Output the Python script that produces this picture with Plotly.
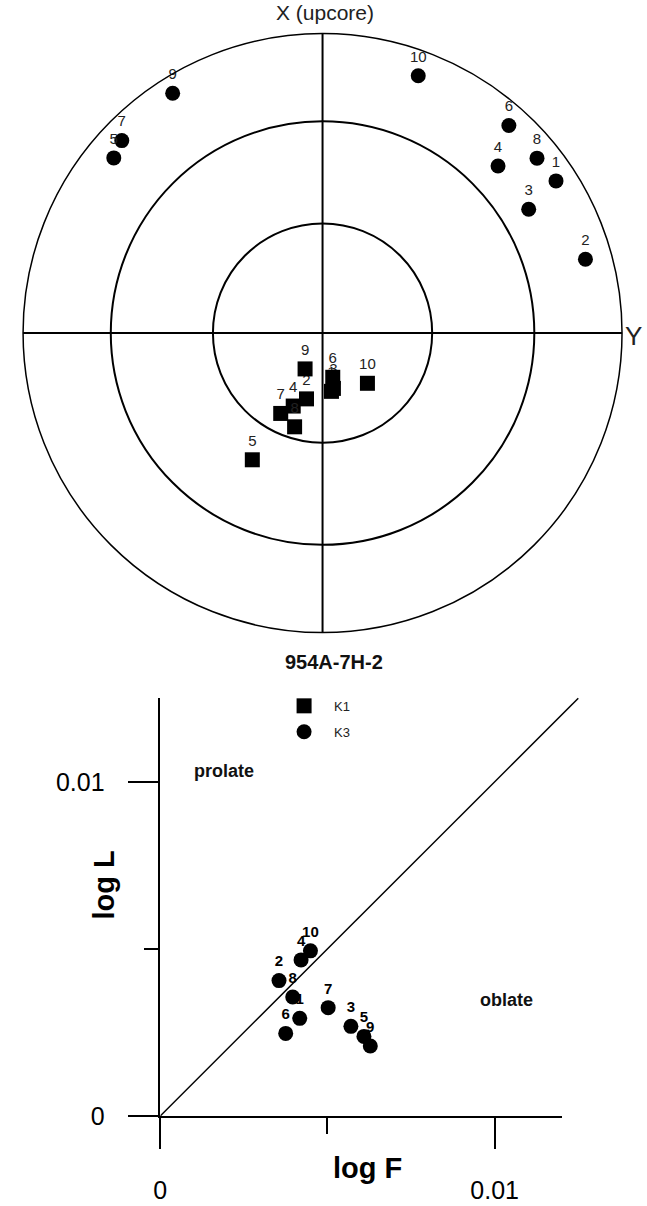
import numpy as np
import plotly.graph_objects as go

W, H = 647, 1206
FONT = "Arial, 'Liberation Sans', sans-serif"

sample_id = "954A-7H-2"
specimens = ["1", "2", "3", "4", "5", "6", "7", "8", "9", "10"]

# Principal susceptibility axes (declination, inclination in degrees)
k1_dec = [171.3, 193.7, 168.9, 201.9, 209.0, 167.0, 207.5, 196.6, 206.0, 138.2]
k1_inc = [74.0, 71.6, 74.7, 68.6, 50.0, 77.7, 65.3, 63.3, 79.2, 71.7]
k3_dec = [56.9, 74.3, 59.0, 46.4, 310.0, 41.9, 313.8, 50.8, 328.0, 20.4]
k3_inc = [7.7, 9.7, 20.8, 20.2, 9.9, 7.6, 7.9, 8.4, 6.2, 9.2]

# Flinn diagram values
log_f = [0.00417, 0.00355, 0.00570, 0.00421, 0.00609, 0.00375, 0.00502, 0.00396, 0.00628, 0.00449]
log_l = [0.00292, 0.00405, 0.00268, 0.00467, 0.00238, 0.00247, 0.00324, 0.00356, 0.00209, 0.00494]

# Inclination circles of the net
net_circles_inc = [60, 30]


def equal_area(inc):
    """Schmidt (equal-area) radial distance, normalised to the primitive circle."""
    inc = np.abs(np.asarray(inc, dtype=float))
    return np.sqrt(2.0) * np.sin(np.radians(90.0 - inc) / 2.0)


def px_x(p):
    return p / W


def px_y(p):
    return 1 - p / H


fig = go.Figure()

r_k1 = equal_area(k1_inc)
r_k3 = equal_area(k3_inc)

forward = list(range(len(specimens)))
backward = forward[::-1]

for n, i in enumerate(forward):
    fig.add_trace(go.Scatterpolar(
        r=[r_k1[i]], theta=[k1_dec[i]], mode="markers+text", text=[specimens[i]],
        textposition="top center",
        textfont=dict(family=FONT, size=15, color="#222"),
        marker=dict(symbol="square", size=15, color="black"),
        name="K1", legendgroup="K1", showlegend=(n == 0), subplot="polar",
    ))

for n, i in enumerate(backward):
    fig.add_trace(go.Scatterpolar(
        r=[r_k3[i]], theta=[k3_dec[i]], mode="markers+text", text=[specimens[i]],
        textposition="top center",
        textfont=dict(family=FONT, size=15, color="#222"),
        marker=dict(symbol="circle", size=15, color="black"),
        name="K3", legendgroup="K3", showlegend=(n == 0), subplot="polar",
    ))

# 1:1 reference line (own helper axes so it can run past the F axis)
fig.add_trace(go.Scatter(
    x=[0, 0.0125], y=[0, 0.0125], mode="lines",
    line=dict(color="black", width=1.5),
    xaxis="x2", yaxis="y2", showlegend=False, hoverinfo="skip",
))

# last-to-first so that specimen 1 ends up on top
for i in backward:
    fig.add_trace(go.Scatter(
        x=[log_f[i]], y=[log_l[i]], mode="markers+text", text=[specimens[i]],
        textposition="top center",
        textfont=dict(family=FONT, size=15, color="black", weight="bold"),
        marker=dict(symbol="circle", size=15, color="black"),
        xaxis="x", yaxis="y", showlegend=False, cliponaxis=False,
    ))

# Flinn plot frame: origin at px (155,1129); 0.01 units ~ 338 px
x0_px, y0_px = 155, 1129
scale = 33.8e3  # px per unit
x_max, y_max = 0.012, 0.0125
x_dom = [px_x(x0_px), px_x(x0_px + x_max * scale)]
y_dom = [px_y(y0_px), px_y(y0_px - y_max * scale)]
helper_max = 0.0127
x2_dom = [px_x(x0_px), px_x(x0_px + helper_max * scale)]
y2_dom = [px_y(y0_px), px_y(y0_px - helper_max * scale)]

axis_common = dict(
    showgrid=False, zeroline=False, showline=True, linecolor="black", linewidth=1.5,
    ticks="outside", tickcolor="black", tickwidth=1.5, ticklen=31,
    tickfont=dict(family=FONT, size=25, color="black"),
)


def label(text, x, y, size, weight="normal", color="#111", angle=0):
    return dict(text=text, x=px_x(x), y=px_y(y), xref="paper", yref="paper",
                xanchor="center", yanchor="middle", showarrow=False, textangle=angle,
                font=dict(family=FONT, size=size, color=color, weight=weight))


fig.update_layout(
    width=W, height=H, margin=dict(l=0, r=0, t=0, b=0),
    paper_bgcolor="white", plot_bgcolor="rgba(0,0,0,0)",
    polar=dict(
        domain=dict(x=[px_x(16), px_x(622)], y=[px_y(640), px_y(34)]),
        bgcolor="white",
        angularaxis=dict(
            rotation=90, direction="clockwise", tickmode="array",
            tickvals=[0, 90, 180, 270], showticklabels=False, ticks="",
            showgrid=True, gridcolor="black", gridwidth=1.5,
            showline=True, linecolor="black", linewidth=1.5,
        ),
        radialaxis=dict(
            range=[0, 1], tickmode="array", tickvals=list(equal_area(net_circles_inc)),
            showticklabels=False, ticks="", showline=False,
            showgrid=True, gridcolor="black", gridwidth=2,
        ),
    ),
    xaxis=dict(
        domain=x_dom, range=[0, x_max], anchor="y",
        tickmode="array", tickvals=[0, 0.01], ticktext=["0", "0.01"],
        ticklabelstandoff=20,
        minor=dict(tickmode="array", tickvals=[0.005], ticks="outside", ticklen=16,
                   tickcolor="black", tickwidth=1.5),
        **axis_common,
    ),
    yaxis=dict(
        domain=y_dom, range=[0, y_max], anchor="x",
        tickmode="array", tickvals=[0, 0.01], ticktext=["0", "0.01"],
        ticklabelstandoff=18,
        minor=dict(tickmode="array", tickvals=[0.005], ticks="outside", ticklen=15,
                   tickcolor="black", tickwidth=1.5),
        **axis_common,
    ),
    xaxis2=dict(domain=x2_dom, range=[0, helper_max], anchor="y2", visible=False),
    yaxis2=dict(domain=y2_dom, range=[0, helper_max], anchor="x2", visible=False),
    showlegend=True,
    legend=dict(
        x=px_x(270), y=px_y(699), xanchor="left", yanchor="top",
        font=dict(family=FONT, size=13, color="#222"),
        itemwidth=50, tracegroupgap=6, bgcolor="rgba(0,0,0,0)",
    ),
    annotations=[
        label("X (upcore)", 321, 13, 21, color="#222"),
        label("Y", 633, 340, 26, color="#222"),
        label(sample_id, 331, 670, 20, weight="bold"),
        label("prolate", 219, 780, 18, weight="bold"),
        label("oblate", 505, 1012, 18, weight="bold"),
        label("log F", 364, 1182, 29, weight="bold", color="black"),
        label("log L", 98, 895, 29, weight="bold", color="black", angle=-90),
    ],
)

fig.write_html("out.html")
